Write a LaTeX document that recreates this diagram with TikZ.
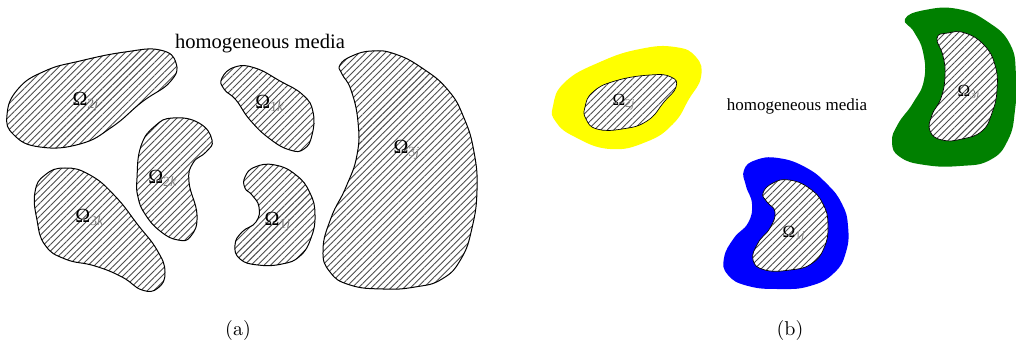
\documentclass[tikz,border=0pt]{standalone}
\usepackage{fontspec}
\newfontfamily\timesfont{Liberation Serif}
\usepackage{tikz}
\usetikzlibrary{patterns.meta}
\tikzstyle{inclusion} = [draw=black, line width=0.5pt, preaction={fill=white}, pattern={Lines[angle=45, distance=2.3pt, line width=0.45pt]}, pattern color=black!70]
\tikzstyle{incl} = [inclusion, line width=0.35pt]
\tikzstyle{blob} = [smooth cycle, tension=0.8]
\tikzstyle{omlabel} = [font=\timesfont\fontsize{10}{12}\selectfont, inner sep=0pt]
\tikzstyle{omsmall} = [font=\timesfont\fontsize{8.5}{10}\selectfont, inner sep=0pt]
\tikzstyle{medialabel} = [inner sep=0pt]
\newcommand{\Om}[2]{Ω\textsubscript{\color{black!50}#1\textit{#2}}}
\definecolor{coatyellow}{HTML}{FFFF00}
\definecolor{coatgreen}{HTML}{008000}
\definecolor{coatblue}{HTML}{0000FF}

\begin{document}
\begin{tikzpicture}[x=0.5pt, y=-0.5pt]
    \useasboundingbox (0,0) rectangle (1016,347);

    % (a) inclusions in homogeneous media
    \node[medialabel, font=\timesfont\fontsize{10.3}{12}\selectfont] (mediaA) at (260,44) {homogeneous media};

    \draw[inclusion] plot[blob] coordinates {(7,115) (18,89) (45,71) (80,61) (125,52) (160,50) (176,63) (170,82) (142,102) (112,127) (80,144) (40,147) (14,135)};
    \node[omlabel] (o2j) at (86,102) {\Om{2}{j}};

    \draw[inclusion] plot[blob] coordinates {(222,78) (235,67) (255,68) (280,81) (303,95) (313,112) (312,135) (304,149) (290,150) (270,139) (250,120) (236,100) (224,89)};
    \node[omlabel] (o1k) at (270,103) {\Om{1}{k}};

    \draw[inclusion] plot[blob] coordinates {(137,178) (141,146) (155,126) (173,118) (199,123) (212,140) (206,152) (193,163) (189,182) (197,215) (191,236) (178,240) (160,231) (145,214) (138,197)};
    \node[omlabel] (o2k) at (163,178) {\Om{2}{k}};

    \draw[inclusion] plot[blob] coordinates {(35,192) (45,175) (65,168) (90,175) (115,196) (138,225) (157,250) (165,272) (158,288) (142,290) (122,277) (95,266) (65,259) (45,245) (37,220)};
    \node[omlabel] (o3k) at (90,217) {\Om{3}{k}};

    \draw[inclusion] plot[blob] coordinates {(245,177) (255,167) (275,165) (296,175) (310,193) (315,215) (311,238) (300,256) (282,264) (258,265) (240,259) (235,245) (242,232) (256,222) (259,207) (252,195) (245,188)};
    \node[omlabel] (o1j) at (278,222) {\Om{1}{j}};

    \draw[inclusion] plot[blob] coordinates {(340,65) (352,56) (372,51) (395,54) (422,68) (448,90) (464,118) (474,152) (477,190) (472,228) (461,259) (442,279) (415,287) (383,289) (350,285) (330,272) (323,250) (331,218) (346,187) (357,155) (358,122) (351,90) (342,74)};
    \node[omlabel] (o3j) at (407,150) {\Om{3}{j}};

    \node[font=\fontsize{10}{12}\selectfont, inner sep=0pt] (capA) at (238,330) {(a)};

    % (b) coated inclusions
    \node[medialabel, font=\timesfont\fontsize{8.5}{10}\selectfont] (mediaB) at (797,106) {homogeneous media};

    \fill[coatyellow] plot[blob] coordinates {(553,106) (565,82) (600,62) (640,49) (675,47) (696,57) (701,77) (689,99) (673,124) (646,142) (610,149) (575,137) (556,122)};
    \draw[incl] plot[blob] coordinates {(585,107) (593,92) (615,81) (650,75) (671,77) (676,87) (664,102) (647,121) (622,129) (597,129) (586,119)};
    \node[omsmall] (c2j) at (624,102) {\Om{2}{j}};

    \fill[coatgreen] plot[blob] coordinates {(905,19) (925,10) (958,9) (988,22) (1010,44) (1016,75) (1015,110) (1008,140) (990,160) (960,166) (925,165) (900,157) (892,142) (898,124) (913,103) (924,80) (923,52) (914,32)};
    \draw[incl] plot[blob] coordinates {(937,38) (948,33) (965,33) (984,45) (995,65) (997,90) (992,113) (982,131) (962,139) (942,140) (930,131) (932,115) (941,98) (945,76) (943,56)};
    \node[omsmall] (c3j) at (969,93) {\Om{3}{j}};

    \fill[coatblue] plot[blob] coordinates {(744,170) (756,160) (778,158) (805,167) (827,184) (842,204) (848,226) (846,252) (834,273) (810,286) (780,289) (748,286) (728,275) (724,258) (734,238) (748,223) (752,204) (746,186)};
    \draw[incl] plot[blob] coordinates {(763,193) (773,183) (789,180) (809,188) (823,204) (828,225) (824,248) (811,264) (790,270) (765,270) (753,260) (758,243) (770,228) (775,212) (767,202)};
    \node[omsmall] (c1j) at (794,234) {\Om{1}{j}};

    \node[font=\fontsize{10}{12}\selectfont, inner sep=0pt] (capB) at (790,330) {(b)};
\end{tikzpicture}
\end{document}
